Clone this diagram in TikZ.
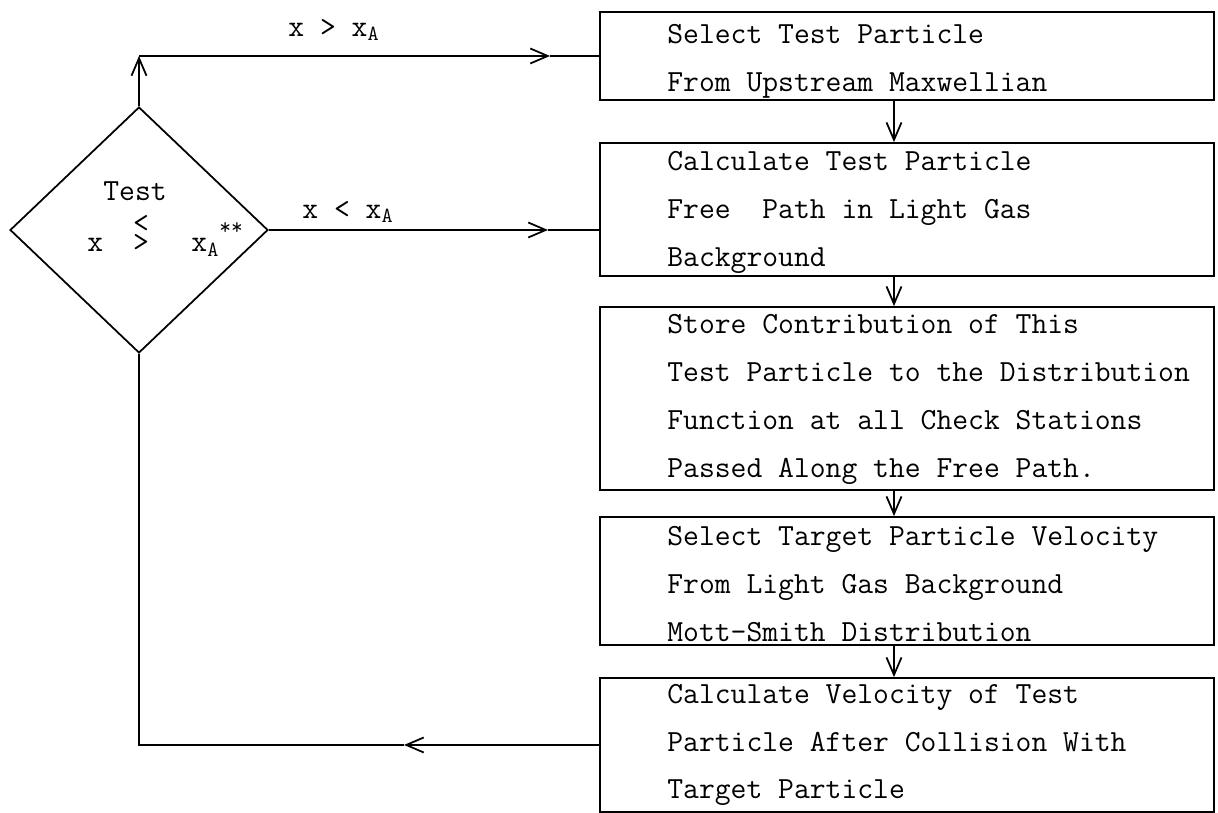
\documentclass[tikz,border=0pt]{standalone}
\usepackage{fontspec}
\usepackage{amssymb}
\usetikzlibrary{shapes.geometric,arrows.meta,positioning}

\tikzset{
  flowbox/.style={draw, rectangle, minimum width=12.28cm, inner sep=0pt, line width=1pt},
  flowtext/.style={font=\fontsize{17.5}{27.2}\selectfont\ttfamily, align=left, anchor=west, inner sep=0pt},
  flowarrow/.style={line width=1pt, -{Straight Barb[length=0.35cm,width=0.3cm]}},
  flowline/.style={line width=1pt}
}

\begin{document}
\begin{tikzpicture}[x=0.02cm, y=-0.02cm]
\useasboundingbox (0,0) rectangle (1218,813);

% Test diamond
\node[draw, diamond, minimum width=5.16cm, minimum height=4.92cm, inner sep=0pt, line width=1pt] (test) at (139,230) {};
\node[flowtext, anchor=center] (testword) at (135,191) {Test};
\node[flowtext, anchor=base west] (testcond) at (87,252) {x\hspace{0.6cm}\shortstack{<\\[-1.5pt]>}\hspace{0.85cm}x$_{\mathtt{A}}$\raisebox{0.34cm}{\fontsize{13}{13}\selectfont**}};

% Boxes
\node[flowbox, minimum height=1.76cm] (select) at (907,56) {};
\node[flowbox, minimum height=2.66cm] (freepath) at (907,209.5) {};
\node[flowbox, minimum height=3.66cm] (store) at (907,398.5) {};
\node[flowbox, minimum height=2.56cm] (target) at (907,581) {};
\node[flowbox, minimum height=2.68cm] (velocity) at (907,745) {};

% Box texts
\node[flowtext] (selecttext) at (667,61.5) {Select Test Particle\\From Upstream Maxwellian};
\node[flowtext] (freepathtext) at (667,212.5) {Calculate Test Particle\\Free~ Path in Light Gas\\Background};
\node[flowtext] (storetext) at (667,399.5) {Store Contribution of This\\Test Particle to the Distribution\\Function at all Check Stations\\Passed Along the Free Path.};
\node[flowtext] (targettext) at (667,584) {Select Target Particle Velocity\\From Light Gas Background\\Mott-Smith Distribution};
\node[flowtext] (velocitytext) at (667,745) {Calculate Velocity of Test\\Particle After Collision With\\Target Particle};

% Branch labels
\node[flowtext, anchor=center] (gtlabel) at (334,30) {x > x$_{\mathtt{A}}$};
\node[flowtext, anchor=center] (ltlabel) at (348,212) {x < x$_{\mathtt{A}}$};

% Branches from the test
\coordinate (upcorner) at (test.north |- select.west);
\coordinate (uptip) at (550,56);
\draw[flowarrow] (test.north) -- (upcorner);
\draw[flowarrow] (upcorner) -- (uptip);
\draw[flowline] (uptip) -- (select.west);
\coordinate (lowtip) at (548,230);
\draw[flowarrow] (test.east) -- (lowtip);
\draw[flowline] (lowtip) -- (lowtip -| freepath.west);

% Chain of boxes
\draw[flowarrow] ([xshift=-0.26cm]select.south) -- ([xshift=-0.26cm]freepath.north);
\draw[flowarrow] ([xshift=-0.26cm]freepath.south) -- ([xshift=-0.26cm]store.north);
\draw[flowarrow] ([xshift=-0.26cm]store.south) -- ([xshift=-0.26cm]target.north);
\draw[flowarrow] ([xshift=-0.26cm]target.south) -- ([xshift=-0.26cm]velocity.north);

% Return to the test
\coordinate (backtip) at (404,745);
\draw[flowarrow] (velocity.west) -- (backtip);
\draw[flowline] (backtip) -| (test.south);
\end{tikzpicture}
\end{document}
